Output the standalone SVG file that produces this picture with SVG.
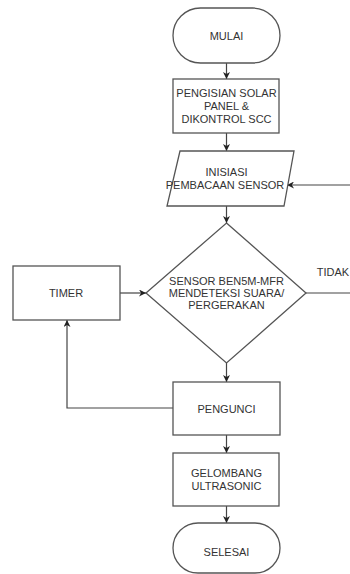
<svg xmlns="http://www.w3.org/2000/svg" width="350" height="574" viewBox="0 0 350 574">
<defs>
<marker id="ah" viewBox="0 0 10 10" refX="10" refY="5" markerWidth="7" markerHeight="7" orient="auto" markerUnits="userSpaceOnUse">
<path d="M0,0 L10,5 L0,10 L3,5 Z" fill="#222"/>
</marker>
<style>
.s{fill:#fff;stroke:#555;stroke-width:1.3}
.t{font-family:"Liberation Sans",Arial,sans-serif;font-size:11px;fill:#333;text-anchor:middle;dominant-baseline:central}
.c{fill:none;stroke:#444;stroke-width:1.2}
</style>
</defs>
<rect width="350" height="574" fill="#fff"/>
<g id="connectors">
<path class="c" d="M226.5,63 V79" marker-end="url(#ah)"/>
<path class="c" d="M226.5,133 V151" marker-end="url(#ah)"/>
<path class="c" d="M226.5,206 V223" marker-end="url(#ah)"/>
<path class="c" d="M226.5,363 V382" marker-end="url(#ah)"/>
<path class="c" d="M226.5,435 V453" marker-end="url(#ah)"/>
<path class="c" d="M226.5,506 V523" marker-end="url(#ah)"/>
<path class="c" d="M120,293 H146" marker-end="url(#ah)"/>
<path class="c" d="M173,408 H67 V320" marker-end="url(#ah)"/>
<path class="c" d="M306,293 H350"/>
<path class="c" d="M350,185 H287" marker-end="url(#ah)"/>
</g>
<g id="mulai">
<rect class="s" x="173" y="8" width="107" height="55" rx="27.5" ry="27.5"/>
<text class="t" x="226.5" y="36">MULAI</text>
</g>
<g id="pengisian">
<rect class="s" x="173" y="79" width="106" height="54"/>
<text class="t" x="226.5" y="93">PENGISIAN SOLAR</text>
<text class="t" x="226.5" y="106">PANEL &amp;</text>
<text class="t" x="226.5" y="119">DIKONTROL SCC</text>
</g>
<g id="inisiasi">
<polygon class="s" points="180,151 294,151 284,206 167,206"/>
<text class="t" x="226.5" y="172">INISIASI</text>
<text class="t" x="225" y="185">PEMBACAAN SENSOR</text>
</g>
<g id="sensor">
<polygon class="s" points="226.5,223 306,293 226.5,363 146,293"/>
<text class="t" x="226.5" y="281">SENSOR BEN5M-MFR</text>
<text class="t" x="226.5" y="293">MENDETEKSI SUARA/</text>
<text class="t" x="226.5" y="305">PERGERAKAN</text>
</g>
<g id="tidak-label">
<text class="t" x="333" y="272">TIDAK</text>
</g>
<g id="timer">
<rect class="s" x="13" y="266" width="107" height="54"/>
<text class="t" x="66" y="293">TIMER</text>
</g>
<g id="pengunci">
<rect class="s" x="173" y="382" width="107" height="53"/>
<text class="t" x="226.5" y="409">PENGUNCI</text>
</g>
<g id="gelombang">
<rect class="s" x="173" y="453" width="106" height="53"/>
<text class="t" x="226.5" y="473">GELOMBANG</text>
<text class="t" x="226.5" y="486">ULTRASONIC</text>
</g>
<g id="selesai">
<rect class="s" x="173" y="523" width="107" height="50" rx="25" ry="25"/>
<text class="t" x="226.5" y="552">SELESAI</text>
</g>
</svg>
